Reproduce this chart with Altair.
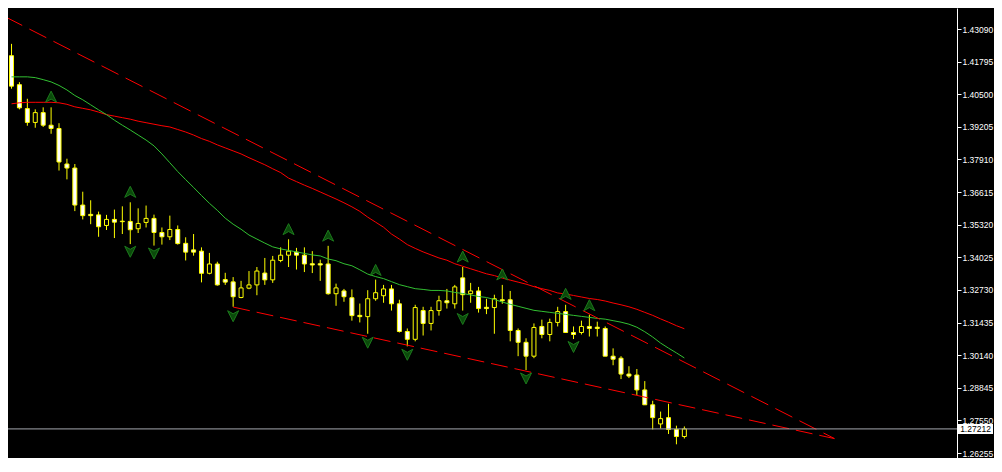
import altair as alt
import pandas as pd

# ---- data (daily candles) ----
open_ = [1.4203, 1.4088, 1.3993, 1.3938, 1.3977, 1.3927, 1.3914, 1.3773, 1.3757, 1.3610,
         1.3573, 1.3571, 1.3529, 1.3553, 1.3546, 1.3545, 1.3516, 1.3541, 1.3557, 1.3501,
         1.3484, 1.3513, 1.3458, 1.3432, 1.3427, 1.3339, 1.3376, 1.3314, 1.3305, 1.3243,
         1.3280, 1.3293, 1.3340, 1.3313, 1.3390, 1.3411, 1.3423, 1.3411, 1.3377, 1.3377,
         1.3376, 1.3258, 1.3269, 1.3242, 1.3172, 1.3167, 1.3238, 1.3250, 1.3277, 1.3218,
         1.3108, 1.3077, 1.3191, 1.3140, 1.3191, 1.3230, 1.3218, 1.3321, 1.3258, 1.3269,
         1.3204, 1.3203, 1.3234, 1.3234, 1.3112, 1.3065, 1.3010, 1.3128, 1.3096, 1.3144,
         1.3187, 1.3104, 1.3104, 1.3128, 1.3125, 1.3120, 1.3010, 1.3002, 1.2939, 1.2935,
         1.2876, 1.2817, 1.2741, 1.2766, 1.2719, 1.2691]
high = [1.4250, 1.4098, 1.4032, 1.3990, 1.3998, 1.3998, 1.3935, 1.3794, 1.3773, 1.3663,
        1.3629, 1.3584, 1.3571, 1.3592, 1.3605, 1.3621, 1.3597, 1.3608, 1.3572, 1.3521,
        1.3568, 1.3529, 1.3482, 1.3495, 1.3442, 1.3420, 1.3385, 1.3341, 1.3324, 1.3309,
        1.3348, 1.3364, 1.3400, 1.3408, 1.3442, 1.3474, 1.3440, 1.3442, 1.3427, 1.3393,
        1.3448, 1.3298, 1.3277, 1.3275, 1.3219, 1.3272, 1.3314, 1.3293, 1.3293, 1.3234,
        1.3120, 1.3214, 1.3206, 1.3206, 1.3250, 1.3277, 1.3293, 1.3364, 1.3301, 1.3285,
        1.3238, 1.3254, 1.3293, 1.3269, 1.3120, 1.3081, 1.3140, 1.3155, 1.3159, 1.3206,
        1.3214, 1.3128, 1.3151, 1.3175, 1.3147, 1.3128, 1.3041, 1.3010, 1.2970, 1.2959,
        1.2911, 1.2833, 1.2790, 1.2821, 1.2734, 1.2731]
low = [1.4072, 1.3990, 1.3925, 1.3917, 1.3920, 1.3893, 1.3747, 1.3712, 1.3586, 1.3553,
       1.3534, 1.3484, 1.3511, 1.3479, 1.3495, 1.3455, 1.3499, 1.3521, 1.3449, 1.3453,
       1.3471, 1.3453, 1.3390, 1.3409, 1.3303, 1.3335, 1.3290, 1.3293, 1.3206, 1.3240,
       1.3276, 1.3252, 1.3293, 1.3301, 1.3383, 1.3364, 1.3354, 1.3344, 1.3340, 1.3309,
       1.3254, 1.3210, 1.3226, 1.3151, 1.3144, 1.3099, 1.3230, 1.3222, 1.3191, 1.3104,
       1.3049, 1.3069, 1.3092, 1.3112, 1.3171, 1.3199, 1.3199, 1.3191, 1.3222, 1.3183,
       1.3177, 1.3099, 1.3218, 1.3069, 1.3010, 1.2955, 1.3002, 1.3081, 1.3069, 1.3128,
       1.3104, 1.3078, 1.3096, 1.3088, 1.3088, 1.3010, 1.2974, 1.2919, 1.2923, 1.2856,
       1.2817, 1.2719, 1.2723, 1.2701, 1.2660, 1.2683]
close = [1.4082, 1.3996, 1.3938, 1.3977, 1.3927, 1.3914, 1.3781, 1.3757, 1.3610, 1.3568,
         1.3568, 1.3524, 1.3553, 1.3542, 1.3544, 1.3512, 1.3537, 1.3557, 1.3501, 1.3484,
         1.3513, 1.3457, 1.3423, 1.3423, 1.3339, 1.3376, 1.3293, 1.3304, 1.3246, 1.3281,
         1.3293, 1.3348, 1.3313, 1.3391, 1.3411, 1.3427, 1.3411, 1.3376, 1.3372, 1.3372,
         1.3258, 1.3281, 1.3246, 1.3171, 1.3167, 1.3238, 1.3262, 1.3277, 1.3218, 1.3108,
         1.3077, 1.3203, 1.3140, 1.3191, 1.3230, 1.3222, 1.3285, 1.3254, 1.3269, 1.3199,
         1.3199, 1.3238, 1.3230, 1.3112, 1.3065, 1.3010, 1.3124, 1.3096, 1.3144, 1.3187,
         1.3104, 1.3096, 1.3128, 1.3120, 1.3120, 1.3010, 1.2998, 1.2939, 1.2931, 1.2876,
         1.2817, 1.2766, 1.2762, 1.2719, 1.2691, 1.27212]

ma_fast = [1.4119, 1.4119, 1.4119, 1.4116, 1.4108, 1.4099, 1.4085, 1.4067, 1.4045, 1.4028,
           1.4008, 1.3988, 1.3969, 1.3947, 1.3927, 1.3908, 1.3888, 1.3868, 1.3845, 1.3813,
           1.3778, 1.3743, 1.3711, 1.3680, 1.3648, 1.3617, 1.3589, 1.3558, 1.3534, 1.3514,
           1.3491, 1.3475, 1.3459, 1.3444, 1.3436, 1.3430, 1.3424, 1.3418, 1.3412, 1.3408,
           1.3396, 1.3389, 1.3377, 1.3369, 1.3353, 1.3336, 1.3326, 1.3318, 1.3306, 1.3294,
           1.3286, 1.3278, 1.3275, 1.3271, 1.3271, 1.3269, 1.3263, 1.3259, 1.3253, 1.3247,
           1.3243, 1.3235, 1.3225, 1.3216, 1.3208, 1.3200, 1.3192, 1.3188, 1.3184, 1.3180,
           1.3176, 1.3172, 1.3168, 1.3164, 1.3160, 1.3157, 1.3151, 1.3145, 1.3137, 1.3125,
           1.3107, 1.3086, 1.3062, 1.3042, 1.3023, 1.3003]
ma_slow = [1.4012, 1.4016, 1.4018, 1.4018, 1.4018, 1.4018, 1.4016, 1.4010, 1.4000, 1.3994,
           1.3988, 1.3979, 1.3969, 1.3963, 1.3957, 1.3951, 1.3943, 1.3937, 1.3931, 1.3925,
           1.3920, 1.3910, 1.3900, 1.3888, 1.3874, 1.3863, 1.3849, 1.3837, 1.3825, 1.3813,
           1.3798, 1.3784, 1.3770, 1.3754, 1.3739, 1.3717, 1.3703, 1.3689, 1.3676, 1.3662,
           1.3648, 1.3634, 1.3619, 1.3603, 1.3585, 1.3562, 1.3542, 1.3522, 1.3495, 1.3475,
           1.3453, 1.3438, 1.3424, 1.3412, 1.3400, 1.3391, 1.3377, 1.3367, 1.3357, 1.3347,
           1.3337, 1.3330, 1.3320, 1.3312, 1.3304, 1.3296, 1.3286, 1.3278, 1.3271, 1.3261,
           1.3257, 1.3251, 1.3245, 1.3239, 1.3235, 1.3229, 1.3221, 1.3214, 1.3206, 1.3196,
           1.3184, 1.3172, 1.3158, 1.3145, 1.3131, 1.3119]

frac_up_bar = [5, 15, 35, 40, 46, 57, 62, 70, 73]
frac_up_val = [1.4038, 1.3660, 1.3512, 1.3486, 1.3350, 1.3403, 1.3332, 1.3255, 1.3210]
frac_dn_bar = [15, 18, 28, 45, 50, 57, 65, 71]
frac_dn_val = [1.3427, 1.3420, 1.3171, 1.3066, 1.3018, 1.3160, 1.2924, 1.3049]

trend_upper_bar = [-0.79, 103.96]
trend_upper_val = [1.43574, 1.26829]
trend_lower_bar = [28.0, 103.96]
trend_lower_val = [1.3205, 1.26827]

bid_price = 1.27212
tick_values = [1.26255, 1.27550, 1.28845, 1.30140, 1.31435, 1.32730, 1.34025,
               1.35320, 1.36615, 1.37910, 1.39205, 1.40500, 1.41795, 1.43090]

# ---- tables ----
n = len(open_)
candles = pd.DataFrame({"bar": list(range(n)), "open": open_, "high": high,
                        "low": low, "close": close})
ma_df = pd.DataFrame({"bar": list(range(n)), "fast": ma_fast, "slow": ma_slow})
up_df = pd.DataFrame({"bar": frac_up_bar, "price": frac_up_val})
dn_df = pd.DataFrame({"bar": frac_dn_bar, "price": frac_dn_val})
tu_df = pd.DataFrame({"bar": trend_upper_bar, "price": trend_upper_val})
tl_df = pd.DataFrame({"bar": trend_lower_bar, "price": trend_lower_val})
bid_df = pd.DataFrame({"price": [bid_price], "label": [f"{bid_price:.5f}"]})

W, H = 949, 450
FONT = "Liberation Sans"
FS = 8.5
xs = alt.Scale(domain=[0.1875, 118.8125], nice=False, zero=False)
ys = alt.Scale(domain=[1.26057, 1.43924], nice=False, zero=False)
yaxis = alt.Axis(orient="right", values=tick_values, format=".5f", title=None,
                 grid=False, labelColor="white", tickColor="white", domainColor="white",
                 tickSize=4, labelPadding=1, labelFont=FONT, labelFontSize=FS,
                 labelOverlap=False, labelFlush=False, domainWidth=1, tickWidth=1,
                 labelBaseline="middle")

X = lambda f: alt.X(f, type="quantitative", scale=xs, axis=None)
Y = lambda f: alt.Y(f, type="quantitative", scale=ys, axis=yaxis)

YELLOW = "#ffff00"

wicks = alt.Chart(candles).mark_rule(color=YELLOW, strokeWidth=1, clip=True).encode(
    x=X("bar"), y=Y("low"), y2="high")
bodies = alt.Chart(candles).mark_bar(size=4, stroke=YELLOW, strokeWidth=1, clip=True).encode(
    x=X("bar"), y=Y("open"), y2="close",
    fill=alt.condition("datum.close < datum.open", alt.value("#ffffff"), alt.value("#000000")))

fast_line = alt.Chart(ma_df).mark_line(color="#32c032", strokeWidth=1, clip=True).encode(
    x=X("bar"), y=Y("fast"))
slow_line = alt.Chart(ma_df).mark_line(color="#ff0000", strokeWidth=1, clip=True).encode(
    x=X("bar"), y=Y("slow"))

tu_line = alt.Chart(tu_df).mark_line(color="#ff0000", strokeWidth=1, strokeDash=[19, 8],
                                     clip=True).encode(x=X("bar"), y=Y("price"))
tl_line = alt.Chart(tl_df).mark_line(color="#ff0000", strokeWidth=1, strokeDash=[17, 7],
                                     clip=True).encode(x=X("bar"), y=Y("price"))

UP_SHAPE = "M0,-1L0.9,0.8L0,0.3L-0.9,0.8Z"
DN_SHAPE = "M0,1L0.9,-0.8L0,-0.3L-0.9,-0.8Z"
up_pts = alt.Chart(up_df).mark_point(shape=UP_SHAPE, size=150, filled=True, fill="#0b4a0b",
                                     stroke="#1c7a1c", strokeWidth=1, opacity=1,
                                     clip=True).encode(x=X("bar"), y=Y("price"))
dn_pts = alt.Chart(dn_df).mark_point(shape=DN_SHAPE, size=150, filled=True, fill="#0b4a0b",
                                     stroke="#1c7a1c", strokeWidth=1, opacity=1,
                                     clip=True).encode(x=X("bar"), y=Y("price"))

bid_line = alt.Chart(bid_df).mark_rule(color="#a4a7ae", strokeWidth=1, clip=True).encode(
    y=Y("price"))
BOX = "M-1,-0.286L1,-0.286L1,0.286L-1,0.286Z"
bid_box = alt.Chart(bid_df).mark_point(shape=BOX, size=1225, filled=True, fill="#ffffff",
                                       strokeWidth=0, opacity=1).encode(
    x=alt.value(967.5), y=Y("price"))
bid_text = alt.Chart(bid_df).mark_text(color="#000000", font=FONT, fontSize=FS,
                                       align="center", baseline="middle").encode(
    x=alt.value(967.5), y=Y("price"), text="label:N")

chart = alt.layer(
    wicks, bodies, slow_line, fast_line, tu_line, tl_line, up_pts, dn_pts,
    bid_line, bid_box, bid_text
).properties(
    width=W, height=H, autosize="none",
    padding={"left": 0, "top": 0, "right": 37, "bottom": 0},
    background="#000000"
).configure_view(strokeWidth=0)

chart.save("out.html", embed_options={"renderer": "svg", "actions": False})
